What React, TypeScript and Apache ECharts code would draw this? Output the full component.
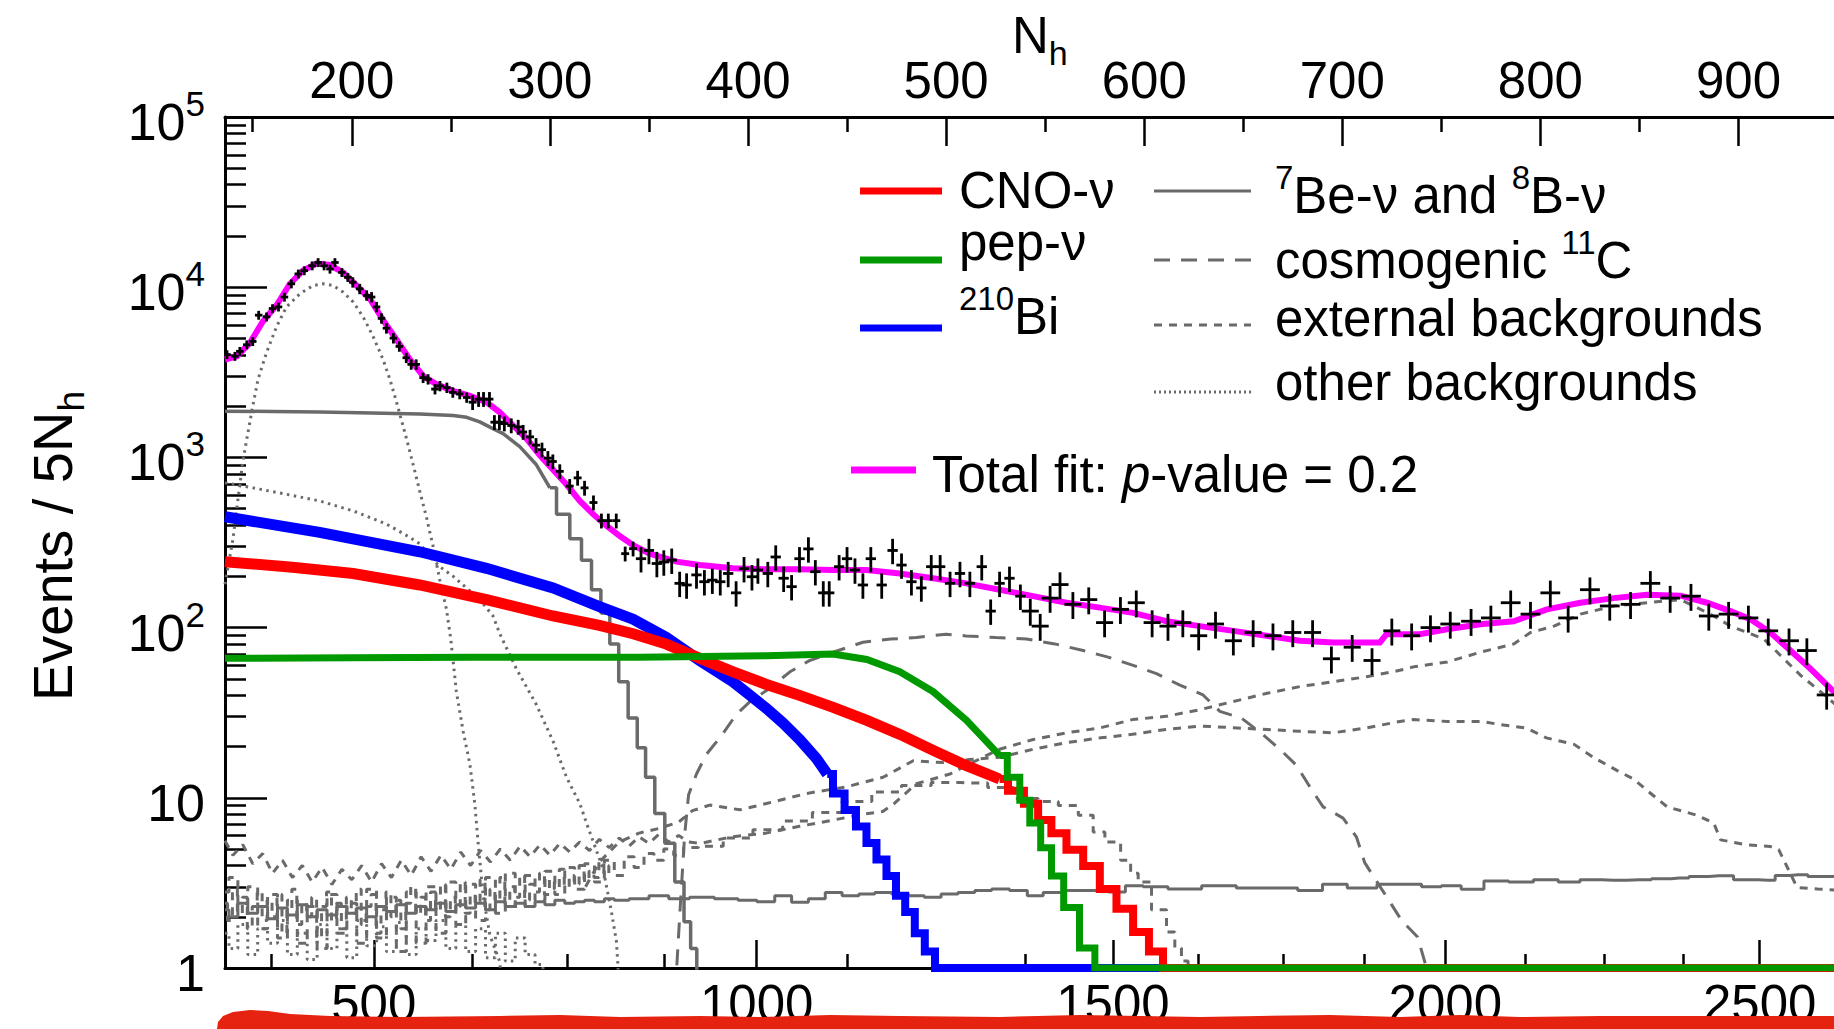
import React, { useEffect, useRef } from "react";
import * as echarts from "echarts";

type P = [number, number];

const FONT = "'Liberation Sans', Arial, Helvetica, sans-serif";
const GRAY = "#6a6a6a";

// ---------- axis ranges & ticks ----------
const X_MIN = 136;
const X_MAX = 948.2;
const nhMajorTicks = [200, 300, 400, 500, 600, 700, 800, 900];
const nhMinorTicks = [150, 250, 350, 450, 550, 650, 750, 850];
const energyTickLabels = ["500", "1000", "1500", "2000", "2500"];
const energyMajorAtNh = [211.1, 404.4, 584.2, 752.0, 910.7];
const energyMinorAtNh = [159.5, 260.8, 309.0, 357.5, 449.9, 495.1, 540.2, 627.1, 670.0, 710.9, 792.5, 832.4, 871.9];
const yDecades = [1, 10, 100, 1000, 10000, 100000];
const yMinorTicks = [
  2, 3, 4, 5, 6, 7, 8, 9,
  20, 30, 40, 50, 60, 70, 80, 90,
  200, 300, 400, 500, 600, 700, 800, 900,
  2000, 3000, 4000, 5000, 6000, 7000, 8000, 9000,
  20000, 30000, 40000, 50000, 60000, 70000, 80000, 90000,
];

// ---------- data points (N_h, events / 5 N_h) ----------
const dataPts: P[] = [
  [137, 4020], [141, 3930], [143.5, 4200], [147, 4590], [150, 4800], [153, 6850], [157, 6700], [160, 7490], [163, 7660], [166, 8750],
  [169.5, 10470], [173, 11970], [176, 12510], [180, 13370], [183, 13970], [186, 13370], [189, 12790], [191.5, 13970], [195, 12220], [198, 11430],
  [200.5, 10690], [204, 9780], [207.5, 8950], [210, 8750], [212.5, 7660], [215, 6560], [217.5, 5740], [221, 5020], [224, 4490], [227.5, 3850],
  [230, 3520], [232.5, 3520], [236, 2940], [238.5, 2880], [242, 2520], [244.5, 2630], [248, 2570], [251, 2410], [254.5, 2360], [258, 2250],
  [261, 2110], [264, 2200], [266.5, 2200], [269.5, 2200], [272, 1610], [274.5, 1610], [277, 1580], [280.5, 1540], [284, 1510], [286.5, 1410],
  [290, 1320], [293, 1180], [296, 1110], [299, 990], [301.5, 946], [305, 828], [310, 678], [314, 758], [317.5, 662], [322, 543],
  [326, 425], [329.5, 425], [333.5, 425], [338, 272], [342, 291],
  [346, 254], [350, 284], [354, 238], [357.5, 243], [361.5, 249], [365.5, 182], [369, 178], [374, 204], [378, 186], [382, 190],
  [386, 186], [390, 208], [394, 160], [398, 222], [402, 199], [405, 218], [410, 208], [414, 260], [418, 195], [422, 174],
  [426, 254], [430.5, 290], [434, 213], [438, 160], [441, 160], [446, 228], [450, 254], [454, 218], [458, 178], [462, 254],
  [467.5, 178], [473, 284], [477.5, 233], [482.5, 186], [487.5, 171], [492.5, 228], [497, 228], [502, 182], [507, 208], [512, 182],
  [518, 228], [522.5, 125], [527, 182], [532, 195],
  [537.5, 153], [542.5, 125], [547.5, 102], [552.5, 149], [557.5, 179], [564, 137], [572, 146], [580, 107], [588, 128], [596, 140],
  [604, 107], [612, 102], [619.5, 107], [627.5, 89.6], [636, 105], [645, 83.7], [655, 93.6], [665, 89.6], [675, 93.6], [685, 93.6],
  [694.5, 65.6], [705, 76.7], [715, 64.1], [725, 95.7], [735, 89.6],
  [744.5, 100], [754.5, 105], [765, 109], [775, 114], [785, 140], [795, 120], [805, 160], [814, 114], [825, 167], [835, 134],
  [845.5, 137], [855.5, 182], [865.5, 149], [876, 153], [885, 117], [895, 120], [905, 114], [915, 95.7], [925.5, 83.7], [934.5, 73.3], [944.5, 40.2],
];
// error-bar size by N_h region (relative vertical error, horizontal half-width in N_h)
const errRegionEdges = [200, 260, 345, 540, 740];
const errRelative = [0.06, 0.07, 0.1, 0.17, 0.18, 0.18];
const errHalfWidth = [1.9, 1.9, 2, 2.6, 4.3, 5];

// ---------- total fit ----------
const totalFit: P[] = [
  [136, 3760], [142, 3930], [148.5, 4690], [155, 6270], [162, 7830], [168.7, 10440], [175.3, 12500], [182.2, 13770], [188.9, 13500], [195.6, 12200],
  [202.4, 10230], [209.1, 8550], [215.8, 6410], [222.6, 4910], [229.3, 3760], [236, 3010], [242.8, 2690], [251.1, 2460], [259.6, 2300], [268, 2110],
  [274.7, 1840], [281.4, 1540], [288.2, 1290], [294.9, 1030], [301.6, 846], [308.4, 693], [315.1, 555], [321.8, 464], [328.5, 397], [335.3, 345],
  [342, 305], [350.4, 272], [363.9, 244], [375.7, 233], [392.5, 223], [409.3, 220], [426.2, 220], [443, 218], [459.8, 218], [476.6, 208],
  [493.4, 195], [510.2, 182], [527.1, 167], [543.9, 153], [560.8, 140], [577.6, 131], [594.4, 122], [611.3, 109], [628.1, 102], [645, 95.7],
  [661.8, 89.5], [678.6, 83.7], [695.5, 81.8], [712.3, 81.8], [719, 81.8], [722.3, 91.5], [739.1, 91.5], [752.9, 97.8], [769.7, 104.5], [786.5, 109],
  [803.3, 128], [820.2, 140], [837, 149], [853.8, 156], [870.7, 154], [884.1, 140], [895.9, 125], [906, 112], [916.1, 93.5], [926.2, 73.3],
  [936.3, 57.3], [946.4, 43.9], [952, 38],
];

// ---------- CNO ----------
const cnoSmooth: P[] = [
  [136, 244], [170, 226], [200.7, 208], [234.3, 178], [268, 146], [301.6, 117], [325, 103], [342, 92], [358.8, 80], [375.7, 66],
  [392.5, 55], [409, 46.5], [426, 40], [443, 34], [460, 28.5], [477, 23.5], [493.5, 19], [510, 15.5], [527, 12.9],
];
const cnoTail: P[] = [
  [527, 12.9], [535.5, 11.0], [543.1, 9.24], [549.8, 7.4], [556.5, 6.19], [565, 4.95], [573.4, 3.97], [581.8, 2.91], [590.2, 2.23],
  [598.6, 1.63], [606.2, 1.25], [612.8, 1], [952, 1],
];

// ---------- pep ----------
const pepSmooth: P[] = [
  [136, 66], [200, 66.5], [260, 67], [300, 67], [345, 67], [409, 68.4], [443, 70], [460, 65], [476.6, 55], [493.5, 42], [510.3, 28.5], [527.1, 17.7],
];
const pepTail: P[] = [
  [527.1, 17.7], [534.7, 13.2], [539.7, 9.66], [544.8, 7.1], [550.7, 5.08], [555.7, 3.47], [563, 2.27], [571.7, 1.31], [578.5, 1], [952, 1],
];

// ---------- 210Bi ----------
const biSmooth: P[] = [
  [136, 448], [183.8, 363], [234.3, 279], [268, 223], [301.6, 171], [325, 133], [342, 112], [358.8, 87.5], [375.7, 64], [392.5, 48],
  [401, 40], [409.3, 33.5], [417.7, 27.5], [426.1, 22], [434.6, 17], [440, 13.8],
];
const biTail: P[] = [
  [440, 13.8], [445.8, 10.6], [451.7, 8.47], [457.3, 6.78], [462.3, 5.42], [467.4, 4.34], [472.4, 3.47], [477, 2.66], [481.7, 2.13],
  [486.7, 1.6], [491.8, 1.25], [497, 1], [952, 1],
];

// ---------- 7Be and 8B ----------
const be7Smooth: P[] = [
  [136, 1870], [160, 1860], [183.8, 1846], [210, 1825], [234.3, 1800], [251.2, 1765], [258, 1720], [264.6, 1616], [270, 1500], [276.4, 1380],
  [284.8, 1156], [293.2, 905], [300, 663],
];
const be7Tail: P[] = [
  [300, 663], [306.7, 464], [313.4, 333], [318.5, 249], [323.5, 167], [328, 122], [332.5, 80], [337, 48], [342, 29.4], [346.2, 19.7],
  [350.4, 13.2], [355.5, 8.1], [360.5, 5.4], [365.6, 3.2], [369.8, 1.87], [372.3, 1.3], [376, 0.3],
];
const b8: P[] = [
  [136, 2.2], [140, 2.0], [145, 2.4], [150, 2.1], [155, 2.3], [160, 1.95], [165, 2.25], [170, 2.05], [175, 2.35], [180, 2.0],
  [185, 2.2], [190, 2.05], [195, 2.3], [200, 2.1], [205, 2.25], [210, 2.0], [215, 2.3], [220, 2.15], [225, 2.35], [230, 2.1],
  [235, 2.3], [240, 2.2], [245, 2.4], [250, 2.15], [255, 2.35], [260, 2.25], [265, 2.4], [270, 2.2], [275, 2.45], [280, 2.3],
  [285, 2.4], [290, 2.3], [295, 2.45], [300, 2.35], [305, 2.5], [310, 2.4], [315, 2.45], [320, 2.5], [325, 2.45], [330, 2.55],
  [335, 2.5], [345, 2.55], [355, 2.66], [365, 2.55], [376, 2.6], [390, 2.55], [400, 2.5], [409, 2.45], [418, 2.66], [426, 2.43],
  [435, 2.55], [443, 2.78], [452, 2.66], [460, 2.72], [468, 2.78], [477, 2.72], [485, 2.66], [493, 2.6], [502, 2.72], [510, 2.78],
  [519, 2.85], [527, 2.91], [537, 2.85], [545, 2.66], [553, 2.78], [565, 2.85], [578, 2.85], [586, 2.8], [595, 3.04], [604, 3.0],
  [620, 2.91], [638, 3.04], [655, 2.95], [670, 2.95], [685, 2.85], [695, 3.1], [710, 2.95], [725, 3.1], [735, 3.1], [745, 3.0],
  [755, 3.04], [765, 2.9], [778, 3.24], [790, 3.2], [803, 3.3], [815, 3.2], [825, 3.3], [837, 3.28], [850, 3.3], [862, 3.35],
  [870, 3.38], [880, 3.45], [890, 3.48], [905, 3.3], [915, 3.28], [922, 3.5], [930, 3.53], [940, 3.45], [952, 3.45],
];

// ---------- cosmogenic 11C ----------
const c11: P[] = [
  [362, 0.5], [364, 1], [366, 2.5], [368, 6], [370, 10.4], [374, 13.8], [379, 18], [387, 23.5], [394, 30.8], [401, 36.7],
  [411, 44], [421, 54.8], [431, 64], [443, 71.6], [458, 82], [472, 85.6], [485, 87.5], [500, 91.5], [510, 89.4], [525, 87.5],
  [540.6, 85.7], [554.9, 80.2], [569.2, 73.3], [581.8, 67.1], [594.4, 60], [606.2, 53.7], [618, 45.9], [629.7, 40.2], [638.2, 32.2], [649.1, 29.4],
  [660, 23.5], [669.3, 18.9], [676.9, 15.5], [683.6, 11.6], [690.3, 8.85], [700.4, 7.6], [707.1, 5.9], [711.3, 4.16], [723, 2.55], [730, 1.9],
  [738, 1.52], [742, 1.05], [744, 0.5],
];

// ---------- external backgrounds ----------
const extHigh: P[] = [
  [136, 5.6], [140, 4.6], [145, 5.3], [150, 4.1], [155, 4.7], [160, 3.6], [165, 4.3], [170, 3.4], [175, 4.0], [180, 3.2],
  [185, 3.9], [190, 3.1], [195, 3.8], [200, 3.3], [205, 4.0], [210, 3.2], [215, 4.1], [220, 3.4], [225, 4.3], [230, 3.5],
  [235, 4.5], [240, 3.7], [245, 4.6], [250, 3.8], [255, 4.8], [260, 4.0], [265, 4.9], [270, 4.2], [275, 5.0], [280, 4.3],
  [285, 5.2], [290, 4.5], [295, 5.3], [300, 4.6], [305, 5.4], [310, 4.8], [315, 5.5], [320, 4.9], [325, 5.7], [330, 5.1],
  [335, 5.8], [340, 5.2], [345, 5.9], [350, 5.4], [355, 6.1], [360, 5.5], [365, 6.0], [370, 5.5], [376, 5.4], [392, 5.9],
  [409, 6.2], [426, 6.8], [443, 7.4], [458, 8.0], [468, 8.3], [474, 9.3], [485, 12.1], [502, 13.8], [515, 16.5], [527, 19.3],
  [544, 22], [561, 24.1], [578, 25.8], [594, 28.8], [611, 30.1], [628, 32.9], [645, 36.8], [662, 41.1], [678.5, 45], [695.4, 48.1],
  [712.2, 51.4], [729, 56.1], [736, 58.8], [753, 62.8], [770, 71.8], [786.6, 80.2], [795, 93.6], [806.8, 102], [820.2, 120], [837, 134],
  [853.9, 140], [870.7, 146], [879.1, 131], [887.5, 117], [896, 102], [912.8, 85.7], [921.2, 68.6], [931.3, 52.5], [941.4, 42], [952, 33],
];
const extMid: P[] = [
  [318, 3.0], [325, 4.2], [335, 5.5], [345, 6.2], [355, 6.6], [365, 7.2], [372, 8.4], [380.7, 9.06], [395.9, 8.5], [409.3, 9.25],
  [429.5, 10.6], [449.7, 11.6], [468.2, 13.2], [483.4, 16.5], [498.5, 16.1], [512, 16.8], [527.1, 17.3], [544, 19.3], [561, 21.1], [578, 22.5],
  [594, 23.6], [611, 25.2], [628, 26.4], [645, 25.8], [662, 25.2], [678.5, 24.6], [695.4, 24.1], [712, 25.7], [729, 28.1], [736, 28.8],
  [753, 28.1], [770, 28.1], [780, 26.9], [793, 25.7], [803, 22.5], [817, 20.6], [827, 17.2], [839, 14.4], [847, 12.9], [854, 11],
  [864, 8.85], [879, 7.9], [887.5, 7.1], [891, 5.66], [904, 5.3], [916, 5.18], [920.3, 4.96], [929.6, 2.97], [940, 2.91], [952, 2.85],
];
const extLow: P[] = [
  [136, 2.8], [140, 3.4], [145, 2.4], [150, 3.0], [155, 1.7], [160, 2.7], [165, 1.5], [170, 2.5], [175, 1.4], [180, 2.3],
  [185, 1.3], [190, 2.7], [195, 1.6], [200, 2.4], [205, 1.4], [210, 2.9], [215, 1.5], [220, 2.6], [225, 1.25], [230, 2.8],
  [235, 1.4], [240, 3.0], [245, 1.6], [250, 3.2], [255, 1.8], [260, 3.1], [265, 1.9], [270, 3.4], [275, 2.1], [280, 3.6],
  [285, 2.3], [290, 3.5], [295, 2.5], [300, 3.7], [305, 2.7], [310, 3.9], [315, 2.9], [320, 4.1], [325, 3.2], [330, 4.3],
  [335, 3.5], [340, 4.5], [345, 3.9], [350, 4.7], [355, 4.3], [360, 5.0], [365, 4.6], [370, 5.1], [380, 5.2], [395, 5.8],
  [410, 6.5], [425, 7.3], [440, 8.2], [455, 9.5], [470, 10.8], [485, 11.8], [500, 12.3], [515, 12.2], [527, 11.5], [540.6, 9.9],
  [552.3, 9.5], [561, 9.0], [572.5, 7.9], [576, 6.3], [584.3, 5.5], [591.9, 4.3], [594.4, 3.6], [599.5, 3.2], [607.9, 2.2], [614.6, 1.63],
  [616.3, 1.31], [621.3, 1.1], [623, 0.5],
];
const extNoise: P[] = [
  [136, 2.4], [138.5, 1.9], [141, 2.9], [143.5, 2.1], [146, 2.6], [148.5, 1.7], [151, 2.3], [153.5, 2.8], [156, 1.9], [158.5, 2.5],
  [161, 2.0], [163.5, 2.7], [166, 1.6], [168.5, 2.2], [171, 2.9], [173.5, 1.8], [176, 2.4], [178.5, 2.0], [181, 2.6], [183.5, 1.5],
  [186, 2.3], [188.5, 2.8], [191, 1.9], [193.5, 2.4], [196, 1.7], [198.5, 2.6], [201, 2.1], [203.5, 2.9], [206, 1.8], [208.5, 2.3],
  [211, 2.7], [213.5, 1.6], [216, 2.2], [218.5, 2.8], [221, 2.0], [223.5, 2.5], [226, 1.7], [228.5, 2.4], [231, 3.0], [233.5, 2.1],
  [236, 2.6], [238.5, 1.9], [241, 2.8], [243.5, 2.2], [246, 3.1], [248.5, 2.0], [251, 2.6], [253.5, 2.3], [256, 3.2], [258.5, 2.1],
  [261, 2.7], [263.5, 2.4], [266, 3.3], [268.5, 2.2], [271, 2.9], [273.5, 2.5], [276, 3.4], [278.5, 2.4], [281, 3.0], [283.5, 2.6],
  [286, 3.5], [288.5, 2.5], [291, 3.1], [293.5, 2.8], [296, 3.6], [298.5, 2.7], [301, 3.3], [303.5, 2.9], [306, 3.8], [308.5, 3.0],
  [311, 3.5], [313.5, 3.1], [316, 4.0], [318.5, 3.3], [321, 3.7], [323.5, 3.4], [326, 4.2], [328.5, 3.6], [331, 4.0],
];

// ---------- other backgrounds ----------
const po210: P[] = [
  [136, 180], [140, 330], [145, 950], [150, 2000], [152.7, 2880], [156.9, 4110], [162, 5860], [167, 7660], [173.8, 9150], [180.5, 10230],
  [185.5, 10470], [190.6, 10230], [195.6, 9360], [200.7, 8180], [205.7, 6700], [210.8, 5130], [215.8, 3760], [219.2, 2880], [222.6, 2110], [227.6, 1290],
  [231, 905], [234.3, 634], [237.7, 445], [241.1, 298], [244.4, 191], [247.8, 128], [250, 85], [252.8, 42], [256.2, 24.6], [259.6, 15.8],
  [262.1, 9.2], [263.8, 5.4], [266.3, 2.66], [269.7, 1.56], [274.7, 1.09], [277, 0.5],
];
const kr85: P[] = [
  [136, 710], [150.2, 662], [167, 607], [183.8, 555], [200.7, 485], [217.5, 406], [227.6, 348], [234.3, 311], [239.4, 261], [244.4, 228],
  [251.2, 200], [264.6, 146], [271.3, 117], [274.7, 92], [283.1, 57.3], [293.2, 35.2], [301.6, 21.5], [308.4, 13.2], [315.1, 9.25], [318.5, 7.1],
  [326.9, 3.8], [331.1, 2.13], [333.6, 1.43], [336, 0.5],
];
const otherLow: P[] = [
  [136, 1.6], [140, 1.3], [145, 1.8], [150, 1.2], [155, 1.7], [160, 1.4], [165, 1.9], [170, 1.2], [175, 1.6], [180, 1.12],
  [185, 1.8], [190, 1.3], [195, 1.7], [200, 1.15], [205, 1.9], [210, 1.35], [215, 1.75], [220, 1.25], [225, 1.85], [230, 1.2],
  [235, 1.7], [240, 1.45], [245, 1.9], [250, 1.3], [255, 1.8], [260, 1.25], [265, 1.7], [270, 1.15], [275, 1.6], [280, 1.1],
  [285, 1.5], [290, 1.2], [295, 1.05], [298, 0.6],
];

// ---------- helpers ----------
const regionOf = (n: number) => {
  let i = 0;
  while (i < errRegionEdges.length && n >= errRegionEdges[i]) i++;
  return i;
};

const grayLine = (name: string, data: P[], type: any, width = 3, step: any = false, z = 2) => ({
  name,
  type: "line",
  data,
  step,
  showSymbol: false,
  symbol: "none",
  clip: true,
  z,
  lineStyle: { color: GRAY, width, type },
});

const colorLine = (name: string, data: P[], color: string, width: number, step: any, z: number) => ({
  name,
  type: "line",
  data,
  step,
  showSymbol: false,
  symbol: "none",
  clip: true,
  z,
  lineStyle: { color, width, cap: "butt", join: "miter" },
});

const LONG_DASH = [16, 11];
const SHORT_DASH = [8, 7];
const DOTS = [2.5, 4.5];

export default function App() {
  const ref = useRef<HTMLDivElement>(null);

  useEffect(() => {
    if (!ref.current) return;
    const chart = echarts.init(ref.current, undefined, { renderer: "svg" });

    const crossData = dataPts.map(([n, y]) => {
      const g = regionOf(n);
      return [n, y, errRelative[g], errHalfWidth[g]];
    });

    const tickLine = { color: "#000", width: 2.5 };
    const baseX = {
      type: "value",
      min: X_MIN,
      max: X_MAX,
      splitLine: { show: false },
      axisPointer: { show: false },
    };
    const baseY = {
      type: "log",
      logBase: 10,
      min: 1,
      max: 100000,
      position: "left",
      splitLine: { show: false },
    };

    const txt = (size: number) => ({ fontSize: size, fontFamily: FONT, fill: "#000", color: "#000" });
    const richMain = { ...txt(51), lineHeight: 60, verticalAlign: "bottom" };
    const richSup = { ...txt(33), lineHeight: 33, verticalAlign: "top" };
    const richSub = { ...txt(34), lineHeight: 34, verticalAlign: "bottom" };

    const legendLine = (x1: number, x2: number, y: number, stroke: string, lineWidth: number, lineDash?: number[]) => ({
      type: "line",
      z: 50,
      shape: { x1, y1: y, x2, y2: y },
      style: { stroke, lineWidth, lineDash: lineDash || null, lineCap: "butt" },
    });
    const legendText = (x: number, y: number, text: string, extraRich?: any) => ({
      type: "text",
      z: 50,
      x,
      y,
      style: {
        text,
        ...txt(51),
        align: "left",
        verticalAlign: "middle",
        rich: extraRich,
      },
    });

    const option: any = {
      animation: false,
      backgroundColor: "#ffffff",
      grid: { left: 225, top: 117, right: 0, bottom: 49, containLabel: false },
      xAxis: [
        {
          ...baseX,
          position: "top",
          axisLine: { show: true, onZero: false, lineStyle: { color: "#000", width: 3 } },
          axisTick: { show: true, inside: true, length: 29, customValues: nhMajorTicks, lineStyle: tickLine },
          axisLabel: { show: true, customValues: nhMajorTicks, fontSize: 51, fontFamily: FONT, color: "#000", margin: 11 },
        },
        {
          ...baseX,
          position: "top",
          axisLine: { show: false },
          axisTick: { show: true, inside: true, length: 15, customValues: nhMinorTicks, lineStyle: tickLine },
          axisLabel: { show: false },
        },
        {
          ...baseX,
          position: "bottom",
          axisLine: { show: true, onZero: false, lineStyle: { color: "#000", width: 3 } },
          axisTick: { show: true, inside: true, length: 28, customValues: energyMajorAtNh, lineStyle: tickLine },
          axisLabel: {
            show: true,
            customValues: energyMajorAtNh,
            fontSize: 51,
            fontFamily: FONT,
            color: "#000",
            margin: 10,
            formatter: (v: number) => {
              let best = 0;
              for (let i = 1; i < energyMajorAtNh.length; i++) {
                if (Math.abs(energyMajorAtNh[i] - v) < Math.abs(energyMajorAtNh[best] - v)) best = i;
              }
              return energyTickLabels[best];
            },
          },
        },
        {
          ...baseX,
          position: "bottom",
          axisLine: { show: false },
          axisTick: { show: true, inside: true, length: 14, customValues: energyMinorAtNh, lineStyle: tickLine },
          axisLabel: { show: false },
        },
      ],
      yAxis: [
        {
          ...baseY,
          axisLine: { show: true, onZero: false, lineStyle: { color: "#000", width: 3 } },
          axisTick: { show: true, inside: true, length: 42, customValues: yDecades, lineStyle: tickLine },
          axisLabel: {
            show: true,
            customValues: yDecades,
            margin: 20,
            color: "#000",
            fontFamily: FONT,
            fontSize: 51,
            formatter: (v: number) => {
              const e = Math.round(Math.log10(v));
              if (e === 0) return "{b|1}";
              if (e === 1) return "{b|10}";
              return "{b|10}{s|" + e + "}";
            },
            rich: {
              b: { fontSize: 52, fontFamily: FONT, color: "#000", lineHeight: 62, verticalAlign: "bottom" },
              s: { fontSize: 35, fontFamily: FONT, color: "#000", lineHeight: 35, verticalAlign: "top" },
            },
          },
        },
        {
          ...baseY,
          axisLine: { show: false },
          axisTick: { show: true, inside: true, length: 21, customValues: yMinorTicks, lineStyle: tickLine },
          axisLabel: { show: false },
        },
      ],
      series: [
        grayLine("other low", otherLow, DOTS, 3, "middle", 2),
        grayLine("210Po", po210, DOTS, 3, false, 2),
        grayLine("85Kr", kr85, DOTS, 3, false, 2),
        grayLine("ext noise", extNoise, SHORT_DASH, 3, "middle", 2),
        grayLine("ext low", extLow, SHORT_DASH, 3, "middle", 2),
        grayLine("ext mid", extMid, SHORT_DASH, 3, false, 2),
        grayLine("ext high", extHigh, SHORT_DASH, 3, false, 2),
        grayLine("11C", c11, LONG_DASH, 3, false, 2),
        grayLine("8B", b8, "solid", 3, "middle", 3),
        grayLine("7Be", be7Smooth, "solid", 3.5, false, 3),
        grayLine("7Be tail", be7Tail, "solid", 3.5, "middle", 3),
        colorLine("210Bi", biSmooth, "#0000ff", 11, false, 4),
        colorLine("210Bi tail", biTail, "#0000ff", 8, "middle", 4),
        colorLine("CNO", cnoSmooth, "#ff0000", 11, false, 5),
        colorLine("CNO tail", cnoTail, "#ff0000", 8, "middle", 5),
        colorLine("pep", pepSmooth, "#009a00", 7, false, 6),
        colorLine("pep tail", pepTail, "#009a00", 7, "middle", 6),
        colorLine("total", totalFit, "#ff00ff", 6, false, 7),
        {
          name: "data",
          type: "custom",
          z: 8,
          clip: true,
          data: crossData,
          encode: { x: 0, y: 1 },
          renderItem: (_p: any, api: any) => {
            const n = api.value(0);
            const y = api.value(1);
            const e = api.value(2);
            const hw = api.value(3);
            const c = api.coord([n, y]);
            const top = api.coord([n, y * (1 + e)]);
            const bot = api.coord([n, y * (1 - e)]);
            const l = api.coord([n - hw, y]);
            const r = api.coord([n + hw, y]);
            return {
              type: "group",
              children: [
                { type: "line", shape: { x1: c[0], y1: top[1], x2: c[0], y2: bot[1] }, style: { stroke: "#000", lineWidth: 2.8 } },
                { type: "line", shape: { x1: l[0], y1: c[1], x2: r[0], y2: c[1] }, style: { stroke: "#000", lineWidth: 2.8 } },
              ],
            };
          },
        },
      ],
      graphic: [
        // top axis title
        {
          type: "text",
          z: 50,
          x: 1012,
          y: 40,
          style: {
            text: "{n|N}{s|h}",
            align: "left",
            verticalAlign: "middle",
            rich: { n: { ...txt(51), lineHeight: 60, verticalAlign: "top" }, s: richSub },
          },
        },
        // y axis title
        {
          type: "text",
          z: 50,
          x: 57,
          y: 546,
          rotation: Math.PI / 2,
          style: {
            text: "{n|Events / 5N}{s|h}",
            align: "center",
            verticalAlign: "middle",
            rich: { n: { ...txt(56), lineHeight: 66, verticalAlign: "top" }, s: { ...txt(37), lineHeight: 37, verticalAlign: "bottom" } },
          },
        },
        // legend, left column
        legendLine(860, 942, 191, "#ff0000", 7),
        legendText(959, 190, "CNO-ν"),
        legendLine(860, 942, 260, "#009a00", 7),
        legendText(959, 242, "pep-ν"),
        legendLine(860, 942, 328, "#0000ff", 7),
        legendText(959, 312, "{s|210}{n|Bi}", { s: richSup, n: richMain }),
        legendLine(851, 916, 470, "#ff00ff", 7),
        legendText(932, 470, "{n|Total fit: }{i|p}{n|-value = 0.2}", {
          n: richMain,
          i: { ...richMain, fontStyle: "italic" },
        }),
        // legend, right column
        legendLine(1154, 1251, 191, GRAY, 3),
        legendText(1275, 191, "{s|7}{n|Be-ν and }{s|8}{n|B-ν}", { s: richSup, n: richMain }),
        legendLine(1154, 1251, 260, GRAY, 3, LONG_DASH),
        legendText(1275, 256, "{n|cosmogenic }{s|11}{n|C}", { s: richSup, n: richMain }),
        legendLine(1154, 1251, 325, GRAY, 3, SHORT_DASH),
        legendText(1275, 318, "external backgrounds"),
        legendLine(1154, 1251, 392, GRAY, 3, [2, 3]),
        legendText(1275, 382, "other backgrounds"),
        // red brush mark over the bottom labels
        {
          type: "polygon",
          z: 100,
          shape: {
            points: [
              [217, 1029], [218, 1022], [223, 1016], [233, 1012], [250, 1010], [268, 1011], [290, 1014], [330, 1016],
              [400, 1017], [500, 1016], [560, 1015], [620, 1017], [700, 1016], [760, 1017], [830, 1015], [900, 1016],
              [1000, 1017], [1080, 1015], [1140, 1016], [1200, 1017], [1260, 1016], [1330, 1015], [1400, 1017],
              [1460, 1015], [1520, 1017], [1600, 1016], [1700, 1016], [1834, 1016], [1834, 1029],
            ],
          },
          style: { fill: "#e62310" },
        },
      ],
    };

    chart.setOption(option);
    return () => chart.dispose();
  }, []);

  return (
    <div
      ref={ref}
      style={{ position: "fixed", left: 0, top: 0, width: 1834, height: 1029, background: "#fff" }}
    />
  );
}
